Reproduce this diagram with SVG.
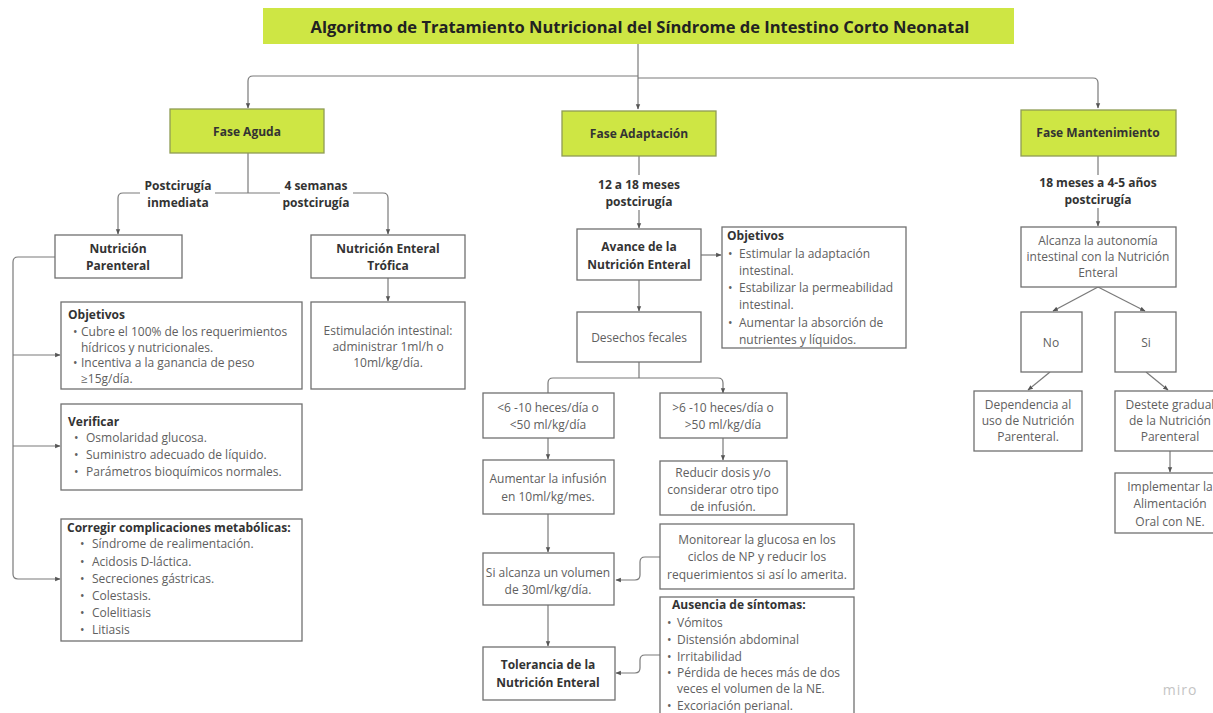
<svg xmlns="http://www.w3.org/2000/svg" width="1213" height="713" viewBox="0 0 1213 713">
<defs>
<marker id="ah" viewBox="0 0 10 10" refX="9" refY="5" markerWidth="4.5" markerHeight="4.5" orient="auto"><path d="M0,1 L10,5 L0,9 z" fill="#555"/></marker>
<style>
.box{fill:#fff;stroke:#707070;stroke-width:1.3}
.ph{fill:#cee644;stroke:#8f9c55;stroke-width:1.3}
.t{font-family:"Open Sans","DejaVu Sans",sans-serif;font-size:12px;fill:#606060}
.b{font-weight:bold;fill:#333}
.c{text-anchor:middle}
.ttl{font-size:16.5px;font-weight:bold;fill:#222}
.cn{fill:none;stroke:#7a7a7a;stroke-width:1.2}
.ar{marker-end:url(#ah)}
</style>
</defs>
<rect width="1213" height="713" fill="#fff"/>

<g id="connectors">
<path class="cn ar" d="M638,44 V109"/>
<path class="cn ar" d="M638,76 H253 Q248,76 248,81 V108"/>
<path class="cn ar" d="M638,78 H1093 Q1098,78 1098,83 V108"/>
<path class="cn" d="M248,153 V193"/>
<path class="cn" d="M140,193 H123 Q118,193 118,198"/>
<path class="cn ar" d="M118,198 V234"/>
<path class="cn" d="M215,193 H280"/>
<path class="cn" d="M353,193 H383 Q388,193 388,198"/>
<path class="cn ar" d="M388,198 V234"/>
<path class="cn ar" d="M388,278 V301"/>
<path class="cn" d="M55,257 H18 Q13,257 13,262 V574 Q13,579 18,579"/>
<path class="cn ar" d="M18,579 H60"/>
<path class="cn ar" d="M13,355 H60"/>
<path class="cn ar" d="M13,446 H60"/>
<path class="cn" d="M639,156 V175"/>
<path class="cn ar" d="M639,210 V228"/>
<path class="cn ar" d="M701,255 H721"/>
<path class="cn ar" d="M639,280 V311"/>
<path class="cn" d="M639,362 V378"/>
<path class="cn ar" d="M548,393 V383 Q548,378 553,378 H718 Q723,378 723,383 V393"/>
<path class="cn ar" d="M548,438 V459"/>
<path class="cn ar" d="M723,438 V460"/>
<path class="cn ar" d="M548,514 V552"/>
<path class="cn ar" d="M548,605 V646"/>
<path class="cn ar" d="M660,557 H645 Q640,557 640,562 V575 Q640,580 635,580 H616"/>
<path class="cn ar" d="M660,655 H645 Q640,655 640,660 V668 Q640,673 635,673 H616"/>
<path class="cn" d="M1098,156 V175"/>
<path class="cn ar" d="M1098,208 V226"/>
<path class="cn ar" d="M1098,287 L1053,311"/>
<path class="cn ar" d="M1098,287 L1145,311"/>
<path class="cn ar" d="M1050,372 L1028,390"/>
<path class="cn ar" d="M1146,372 L1168,390"/>
<path class="cn ar" d="M1170,451 V472"/>
</g>

<g id="title">
<rect x="263" y="8" width="751" height="36" fill="#cee644"/>
<text class="t c ttl" x="640" y="33">Algoritmo de Tratamiento Nutricional del Síndrome de Intestino Corto Neonatal</text>
</g>

<g id="fase-aguda">
<rect class="ph" x="170" y="109" width="154" height="44"/>
<text class="t b c" x="247" y="136">Fase Aguda</text>
</g>
<g id="label-postcirugia">
<text class="t b c" x="178" y="190">Postcirugía</text>
<text class="t b c" x="178" y="207">inmediata</text>
</g>
<g id="label-4semanas">
<text class="t b c" x="316" y="190">4 semanas</text>
<text class="t b c" x="316" y="207">postcirugía</text>
</g>
<g id="nutricion-parenteral">
<rect class="box" x="55" y="235" width="127" height="43"/>
<text class="t b c" x="118" y="253">Nutrición</text>
<text class="t b c" x="118" y="270">Parenteral</text>
</g>
<g id="nutricion-enteral-trofica">
<rect class="box" x="311" y="235" width="154" height="43"/>
<text class="t b c" x="388" y="253">Nutrición Enteral</text>
<text class="t b c" x="388" y="270">Trófica</text>
</g>
<g id="estimulacion">
<rect class="box" x="311" y="302" width="154" height="87"/>
<text class="t c" x="388" y="335">Estimulación intestinal:</text>
<text class="t c" x="388" y="351">administrar 1ml/h o</text>
<text class="t c" x="388" y="367">10ml/kg/día.</text>
</g>
<g id="objetivos-np">
<rect class="box" x="61" y="302" width="241" height="87"/>
<text class="t b" x="68" y="319">Objetivos</text>
<text class="t" x="73" y="336">•</text><text class="t" x="81" y="336">Cubre el 100% de los requerimientos</text>
<text class="t" x="81" y="352">hídricos y nutricionales.</text>
<text class="t" x="73" y="367">•</text><text class="t" x="81" y="367">Incentiva a la ganancia de peso</text>
<text class="t" x="81" y="383">≥15g/día.</text>
</g>
<g id="verificar">
<rect class="box" x="61" y="404" width="241" height="86"/>
<text class="t b" x="68" y="426">Verificar</text>
<text class="t" x="74" y="442">•</text><text class="t" x="86" y="442">Osmolaridad glucosa.</text>
<text class="t" x="74" y="459">•</text><text class="t" x="86" y="459">Suministro adecuado de líquido.</text>
<text class="t" x="74" y="476">•</text><text class="t" x="86" y="476">Parámetros bioquímicos normales.</text>
</g>
<g id="corregir">
<rect class="box" x="61" y="519" width="241" height="122"/>
<text class="t b" x="67" y="532">Corregir complicaciones metabólicas:</text>
<text class="t" x="80" y="548">•</text><text class="t" x="92" y="548">Síndrome de realimentación.</text>
<text class="t" x="80" y="566">•</text><text class="t" x="92" y="566">Acidosis D-láctica.</text>
<text class="t" x="80" y="583">•</text><text class="t" x="92" y="583">Secreciones gástricas.</text>
<text class="t" x="80" y="600">•</text><text class="t" x="92" y="600">Colestasis.</text>
<text class="t" x="80" y="617">•</text><text class="t" x="92" y="617">Colelitiasis</text>
<text class="t" x="80" y="634">•</text><text class="t" x="92" y="634">Litiasis</text>
</g>

<g id="fase-adaptacion">
<rect class="ph" x="562" y="111" width="154" height="45"/>
<text class="t b c" x="639" y="138">Fase Adaptación</text>
</g>
<g id="label-12a18">
<text class="t b c" x="639" y="189">12 a 18 meses</text>
<text class="t b c" x="639" y="206">postcirugía</text>
</g>
<g id="avance">
<rect class="box" x="577" y="229" width="124" height="51"/>
<text class="t b c" x="639" y="251">Avance de la</text>
<text class="t b c" x="639" y="269">Nutrición Enteral</text>
</g>
<g id="objetivos-ne">
<rect class="box" x="722" y="227" width="184" height="121"/>
<text class="t b" x="727" y="240">Objetivos</text>
<text class="t" x="728" y="258">•</text><text class="t" x="739" y="258">Estimular la adaptación</text>
<text class="t" x="739" y="275">intestinal.</text>
<text class="t" x="728" y="292">•</text><text class="t" x="739" y="292">Estabilizar la permeabilidad</text>
<text class="t" x="739" y="309">intestinal.</text>
<text class="t" x="728" y="327">•</text><text class="t" x="739" y="327">Aumentar la absorción de</text>
<text class="t" x="739" y="344">nutrientes y líquidos.</text>
</g>
<g id="desechos">
<rect class="box" x="577" y="312" width="124" height="50"/>
<text class="t c" x="639" y="342">Desechos fecales</text>
</g>
<g id="menor6">
<rect class="box" x="483" y="393" width="131" height="45"/>
<text class="t c" x="548" y="412">&lt;6 -10 heces/día o</text>
<text class="t c" x="548" y="429">&lt;50 ml/kg/día</text>
</g>
<g id="mayor6">
<rect class="box" x="660" y="393" width="127" height="45"/>
<text class="t c" x="723" y="412">&gt;6 -10 heces/día o</text>
<text class="t c" x="723" y="429">&gt;50 ml/kg/día</text>
</g>
<g id="aumentar">
<rect class="box" x="483" y="460" width="131" height="54"/>
<text class="t c" x="548" y="483">Aumentar la infusión</text>
<text class="t c" x="548" y="501">en 10ml/kg/mes.</text>
</g>
<g id="reducir">
<rect class="box" x="660" y="461" width="127" height="54"/>
<text class="t c" x="723" y="477">Reducir dosis y/o</text>
<text class="t c" x="723" y="494">considerar otro tipo</text>
<text class="t c" x="723" y="511">de infusión.</text>
</g>
<g id="monitorear">
<rect class="box" x="660" y="524" width="194" height="65"/>
<text class="t c" x="757" y="544">Monitorear la glucosa en los</text>
<text class="t c" x="757" y="561">ciclos de NP y reducir los</text>
<text class="t c" x="757" y="579">requerimientos si así lo amerita.</text>
</g>
<g id="si-alcanza">
<rect class="box" x="483" y="553" width="131" height="52"/>
<text class="t c" x="548" y="577">Si alcanza un volumen</text>
<text class="t c" x="548" y="594">de 30ml/kg/día.</text>
</g>
<g id="tolerancia">
<rect class="box" x="483" y="647" width="132" height="53"/>
<text class="t b c" x="548" y="669">Tolerancia de la</text>
<text class="t b c" x="548" y="687">Nutrición Enteral</text>
</g>
<g id="ausencia">
<rect class="box" x="660" y="597" width="194" height="130"/>
<text class="t b" x="672" y="609">Ausencia de síntomas:</text>
<text class="t" x="667" y="627">•</text><text class="t" x="677" y="627">Vómitos</text>
<text class="t" x="667" y="644">•</text><text class="t" x="677" y="644">Distensión abdominal</text>
<text class="t" x="667" y="661">•</text><text class="t" x="677" y="661">Irritabilidad</text>
<text class="t" x="667" y="677">•</text><text class="t" x="677" y="677">Pérdida de heces más de dos</text>
<text class="t" x="677" y="693">veces el volumen de la NE.</text>
<text class="t" x="667" y="710">•</text><text class="t" x="677" y="710">Excoriación perianal.</text>
</g>

<g id="fase-mantenimiento">
<rect class="ph" x="1021" y="110" width="155" height="46"/>
<text class="t b c" x="1098" y="137">Fase Mantenimiento</text>
</g>
<g id="label-18meses">
<text class="t b c" x="1098" y="187">18 meses a 4-5 años</text>
<text class="t b c" x="1098" y="204">postcirugía</text>
</g>
<g id="alcanza">
<rect class="box" x="1021" y="227" width="155" height="60"/>
<text class="t c" x="1098" y="245">Alcanza la autonomía</text>
<text class="t c" x="1098" y="261">intestinal con la Nutrición</text>
<text class="t c" x="1098" y="277">Enteral</text>
</g>
<g id="no">
<rect class="box" x="1021" y="312" width="61" height="60"/>
<text class="t c" x="1051" y="347">No</text>
</g>
<g id="si">
<rect class="box" x="1115" y="312" width="61" height="60"/>
<text class="t c" x="1146" y="347">Si</text>
</g>
<g id="dependencia">
<rect class="box" x="974" y="391" width="108" height="60"/>
<text class="t c" x="1028" y="409">Dependencia al</text>
<text class="t c" x="1028" y="425">uso de Nutrición</text>
<text class="t c" x="1028" y="441">Parenteral.</text>
</g>
<g id="destete">
<rect class="box" x="1115" y="391" width="110" height="60"/>
<text class="t c" x="1170" y="409">Destete gradual</text>
<text class="t c" x="1170" y="425">de la Nutrición</text>
<text class="t c" x="1170" y="441">Parenteral</text>
</g>
<g id="implementar">
<rect class="box" x="1115" y="473" width="110" height="60"/>
<text class="t c" x="1170" y="491">Implementar la</text>
<text class="t c" x="1170" y="508">Alimentación</text>
<text class="t c" x="1170" y="526">Oral con NE.</text>
</g>
<text x="1180" y="695" text-anchor="middle" font-family="'Open Sans',sans-serif" font-size="14" letter-spacing="1" fill="#c4c4c4">miro</text>
</svg>
